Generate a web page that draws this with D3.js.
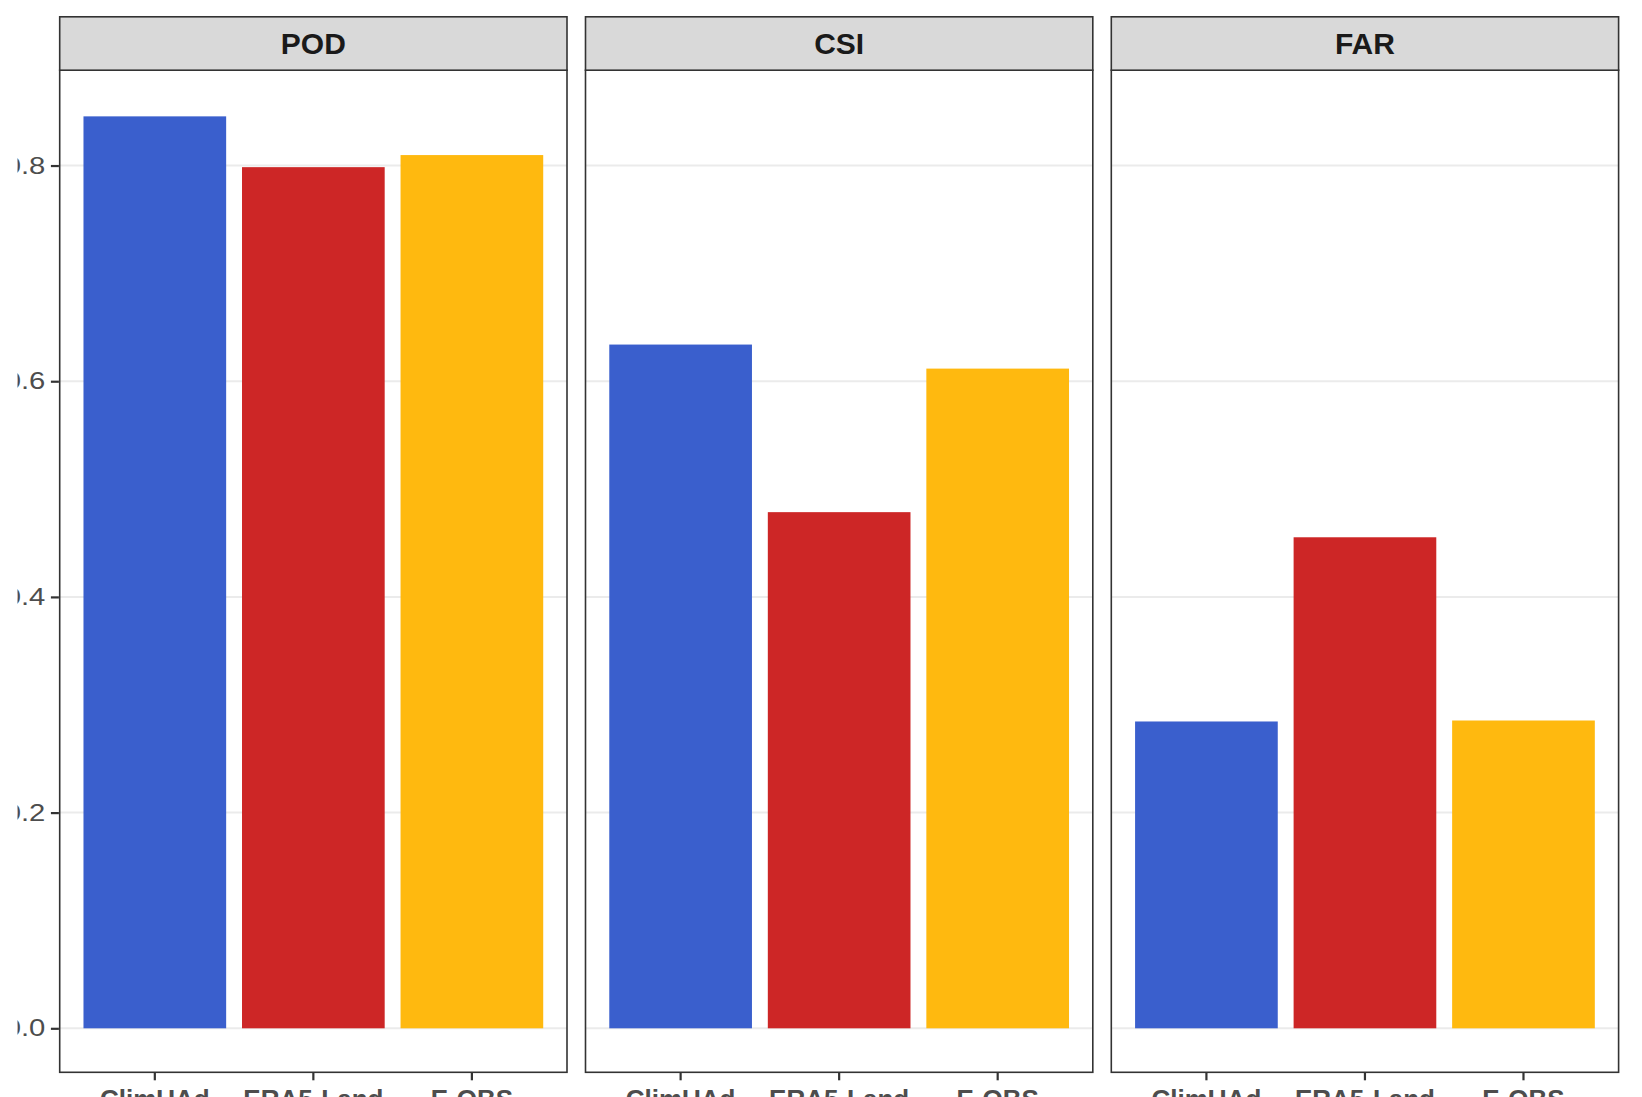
<!DOCTYPE html>
<html>
<head>
<meta charset="utf-8">
<script src="https://cdn.jsdelivr.net/npm/d3@7"></script>
<style>
  html, body { margin: 0; padding: 0; background: #fff; overflow: hidden; }
  svg { display: block; }
</style>
</head>
<body>
<svg id="chart" width="1642" height="1097"></svg>
<script>
// ---- data ----
const metrics = ["POD", "CSI", "FAR"];
const datasets = ["ClimUAd", "ERA5-Land", "E-OBS"];
const podValues = [0.8456, 0.7985, 0.8097];
const csiValues = [0.6340, 0.4786, 0.6117];
const farValues = [0.2845, 0.4553, 0.2854];
const yTicks = [0.0, 0.2, 0.4, 0.6, 0.8];
const yTickLabels = ["0.0", "0.2", "0.4", "0.6", "0.8"];
const colors = ["#3A5FCD", "#CD2626", "#FFB90F"];

const valuesByMetric = { POD: podValues, CSI: csiValues, FAR: farValues };

// ---- layout ----
const svg = d3.select("#chart");
const panelLeft = 59.7, panelW = 507.3, gap = 18.5;
const stripTop = 16.8, stripBottom = 70.2, panelBottom = 1072.3;
const FONT = "Liberation Sans, Arial, Helvetica, sans-serif";

const y = d3.scaleLinear().domain([-0.0408, 0.8884]).range([panelBottom, stripBottom]);
const xPanel = d3.scaleBand().domain(metrics)
  .range([panelLeft, panelLeft + 3 * panelW + 2 * gap])
  .paddingInner(gap / (panelW + gap)).paddingOuter(0);
const colorScale = d3.scaleOrdinal().domain(datasets).range(colors);

metrics.forEach(m => {
  const x0 = xPanel(m);
  const w = xPanel.bandwidth();
  const g = svg.append("g");
  const x = d3.scaleBand().domain(datasets).range([x0, x0 + w])
    .paddingInner(0.1).paddingOuter(0.15);

  // panel background
  g.append("rect").attr("x", x0).attr("y", stripBottom).attr("width", w)
    .attr("height", panelBottom - stripBottom).attr("fill", "#fff");

  // gridlines
  g.selectAll("line.grid").data(yTicks).enter().append("line")
    .attr("x1", x0).attr("x2", x0 + w)
    .attr("y1", d => y(d)).attr("y2", d => y(d))
    .attr("stroke", "#EBEBEB").attr("stroke-width", 2);

  // bars
  const vals = valuesByMetric[m];
  g.selectAll("rect.bar").data(datasets).enter().append("rect")
    .attr("x", d => x(d)).attr("width", x.bandwidth())
    .attr("y", (d, i) => y(vals[i]))
    .attr("height", (d, i) => y(0) - y(vals[i]))
    .attr("fill", d => colorScale(d));

  // panel border
  g.append("rect").attr("x", x0).attr("y", stripBottom).attr("width", w)
    .attr("height", panelBottom - stripBottom).attr("fill", "none")
    .attr("stroke", "#333333").attr("stroke-width", 1.6);

  // strip
  g.append("rect").attr("x", x0).attr("y", stripTop).attr("width", w)
    .attr("height", stripBottom - stripTop).attr("fill", "#D9D9D9")
    .attr("stroke", "#333333").attr("stroke-width", 1.6);
  g.append("text").attr("x", x0 + w / 2).attr("y", (stripTop + stripBottom) / 2 + 10.5)
    .attr("text-anchor", "middle").attr("font-family", FONT)
    .attr("font-weight", "bold").attr("font-size", 30).attr("fill", "#1A1A1A").text(m);

  // x axis
  const xAxis = d3.axisBottom(x).tickSize(8).tickPadding(9).tickSizeOuter(0);
  const ax = g.append("g").attr("transform", `translate(0,${panelBottom})`).call(xAxis);
  ax.select(".domain").remove();
  ax.selectAll(".tick line").attr("stroke", "#333333").attr("stroke-width", 2.2);
  ax.selectAll(".tick text").attr("font-family", FONT)
    .attr("font-size", 26).attr("font-weight", "bold").attr("fill", "#4D4D4D")
    .attr("dy", "0.72em");
});

// y axis (left panel only)
const yAxis = d3.axisLeft(y).tickValues(yTicks).tickFormat((d, i) => yTickLabels[i])
  .tickSize(8).tickPadding(6).tickSizeOuter(0);
const ay = svg.append("g").attr("transform", `translate(${panelLeft - 0.8},0)`).call(yAxis);
ay.select(".domain").remove();
ay.selectAll(".tick line").attr("stroke", "#333333").attr("stroke-width", 2.2);
ay.selectAll(".tick text")
  .attr("x", 0)
  .attr("transform", "translate(-13.5,0) scale(1.22,1)")
  .attr("font-family", FONT)
  .attr("font-size", 24).attr("fill", "#4D4D4D");

// left edge crop of the original figure
svg.append("rect").attr("x", 0).attr("y", 0).attr("width", 17.5).attr("height", 1097).attr("fill", "#fff");
</script>
</body>
</html>
